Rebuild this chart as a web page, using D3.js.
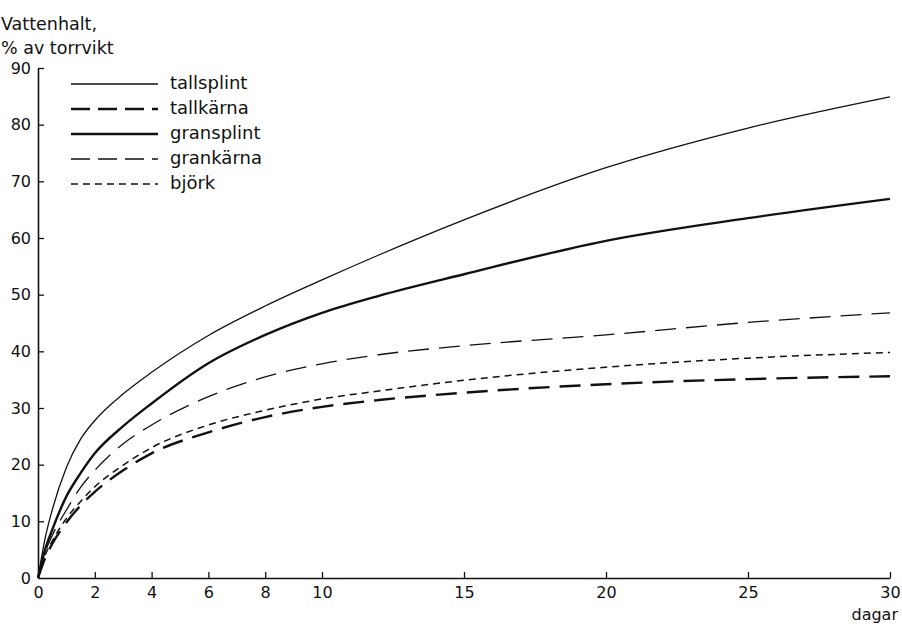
<!DOCTYPE html>
<html>
<head>
<meta charset="utf-8">
<script src="https://cdn.jsdelivr.net/npm/d3@7"></script>
<style>
  html, body { margin: 0; padding: 0; background: #fff; }
  svg { display: block; }
  text { font-family: "DejaVu Sans", "Liberation Sans", sans-serif; fill: #111; }
</style>
</head>
<body>
<svg id="chart" width="902" height="628"></svg>
<script>
// Water content (% of dry weight) over time (days) for five wood types
const days = [0, 0.25, 0.5, 1, 1.5, 2, 3, 4, 6, 8, 10, 12, 15, 20, 25, 30];
const tallsplint = [0, 7, 12, 19.5, 24.5, 27.8, 32.5, 36.3, 42.8, 48, 52.6, 57, 63.2, 72.4, 79.4, 84.9];
const tallkarna  = [0, 3.5, 6, 9.8, 12.8, 15.2, 19, 22, 25.7, 28.4, 30.2, 31.4, 32.7, 34.2, 35.1, 35.6];
const gransplint = [0, 5, 8.5, 14.4, 18.5, 22, 26.8, 30.8, 37.9, 42.9, 46.8, 49.8, 53.6, 59.5, 63.5, 66.9];
const grankarna  = [0, 4.5, 7.5, 12, 16, 19, 23.7, 27, 32, 35.5, 37.8, 39.4, 41, 42.9, 45.1, 46.8];
const bjork      = [0, 4, 6.5, 10.5, 13.5, 16.1, 19.9, 23, 27, 29.6, 31.6, 33, 34.9, 37.2, 38.8, 39.8];

const seriesNames = ["tallsplint", "tallkärna", "gransplint", "grankärna", "björk"];
const seriesValues = [tallsplint, tallkarna, gransplint, grankarna, bjork];

const xTicks = [0, 2, 4, 6, 8, 10, 15, 20, 25, 30];
const yTicks = [0, 10, 20, 30, 40, 50, 60, 70, 80, 90];

// Line styles per series: width and dash pattern
const styles = [
  { w: 1.3, dash: null },
  { w: 2.4, dash: "21,10" },
  { w: 2.4, dash: null },
  { w: 1.3, dash: "21,10" },
  { w: 1.5, dash: "7,5" }
];

const svg = d3.select("#chart");
const x = d3.scaleLinear().domain([0, 30]).range([38, 890]);
const y = d3.scaleLinear().domain([0, 90]).range([578, 68]);

// Axes with inward ticks
const xAxis = d3.axisBottom(x).tickValues(xTicks).tickSize(-6).tickSizeOuter(0).tickPadding(9);
const yAxis = d3.axisLeft(y).tickValues(yTicks).tickSize(-6).tickSizeOuter(0).tickPadding(7);

const gx = svg.append("g").attr("transform", `translate(0,${y(0)})`).call(xAxis);
const gy = svg.append("g").attr("transform", `translate(${x(0)},0)`).call(yAxis);

[gx, gy].forEach(g => {
  g.select(".domain").attr("stroke", "#111").attr("stroke-width", 1.6);
  g.selectAll(".tick line").attr("stroke", "#111").attr("stroke-width", 1.3);
  g.selectAll(".tick text").attr("font-size", 16).attr("fill", "#111")
    .style("font-family", "'DejaVu Sans', sans-serif");
});
gx.selectAll(".tick").filter(d => d === 0).select("line").remove();
gy.selectAll(".tick").filter(d => d === 0).select("line").remove();

// Axis titles
svg.append("text").attr("x", 1).attr("y", 30).attr("font-size", 17.5).text("Vattenhalt,");
svg.append("text").attr("x", 1).attr("y", 54).attr("font-size", 17.5).text("% av torrvikt");
svg.append("text").attr("x", 898).attr("y", 620).attr("text-anchor", "end").attr("font-size", 16).text("dagar");

// Curves
const line = d3.line().x(d => x(d[0])).y(d => y(d[1])).curve(d3.curveMonotoneX);
seriesValues.forEach((vals, i) => {
  const pts = days.map((d, j) => [d, vals[j]]);
  svg.append("path")
    .attr("d", line(pts))
    .attr("fill", "none")
    .attr("stroke", "#111")
    .attr("stroke-width", styles[i].w)
    .attr("stroke-dasharray", styles[i].dash)
    .attr("stroke-linecap", "butt");
});

// Legend
const legend = svg.append("g");
seriesNames.forEach((name, i) => {
  const ly = 84 + i * 25;
  legend.append("line")
    .attr("x1", 71).attr("x2", 158).attr("y1", ly).attr("y2", ly)
    .attr("stroke", "#111")
    .attr("stroke-width", styles[i].w)
    .attr("stroke-dasharray", i === 1 || i === 3 ? "19,8" : styles[i].dash);
  legend.append("text")
    .attr("x", 170).attr("y", ly + 5)
    .attr("font-size", 18)
    .text(name);
});
</script>
</body>
</html>
